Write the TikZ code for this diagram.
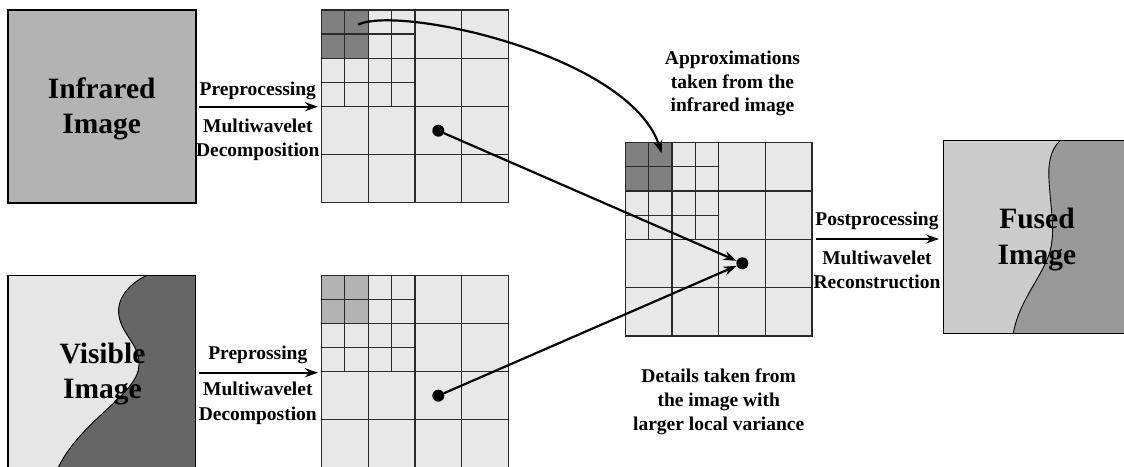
\documentclass[tikz,border=0pt]{standalone}
\usepackage{fontspec}
\setmainfont{Liberation Serif}
\usetikzlibrary{arrows.meta}
\definecolor{irgray}{HTML}{B3B3B3}
\definecolor{vislight}{HTML}{E6E6E6}
\definecolor{visdark}{HTML}{666666}
\definecolor{fuslight}{HTML}{CCCCCC}
\definecolor{fusdark}{HTML}{999999}
\definecolor{gridfill}{HTML}{E8E8E8}
\definecolor{celldark}{HTML}{808080}
\definecolor{celllight}{HTML}{B3B3B3}
\definecolor{gridline}{HTML}{2A2A2A}
\begin{document}
\begin{tikzpicture}[x=1pt,y=-1pt,
  imgbox/.style={draw=black,line width=1.1pt},
  gline/.style={draw=gridline,line width=1.2pt},
  dot/.style={circle,fill=black,inner sep=0pt,minimum size=12pt},
  arr/.style={line width=2.2pt,-{Stealth[length=13pt,width=9pt]}},
  lbl/.style={font=\bfseries\fontsize{19.5}{23.5}\selectfont,inner sep=0pt,anchor=base},
  big/.style={font=\bfseries\fontsize{29.5}{35}\selectfont,inner sep=0pt,anchor=base},
  pics/mwgrid/.style={code={
    \fill[gridfill] (0,0) rectangle (1,1);
    \fill[#1] (0,0) rectangle (0.25,0.25);
    \foreach \t in {0.25,0.5,0.75}{
      \draw[gline] (\t,0) -- (\t,1);
      \draw[gline] (0,\t) -- (1,\t);
    }
    \foreach \t in {0.125,0.375}{
      \draw[gline] (\t,0) -- (\t,0.5);
      \draw[gline] (0,\t) -- (0.5,\t);
    }
    \draw[gline] (0,0) rectangle (1,1);
  }}]
\useasboundingbox (0,0) rectangle (1124,466);

% Infrared image
\draw[imgbox,fill=irgray] (8,10) rectangle (196,203);
\node[big] (ir1) at (101.7,98.3) {Infrared};
\node[big] (ir2) at (101.7,133.3) {Image};

% Visible image
\fill[vislight] (8,275.3) rectangle (195.7,470);
\fill[visdark] (147,275.3) .. controls (128,284) and (116,300) .. (119,316)
  .. controls (122,335) and (140,345) .. (139,365)
  .. controls (138,395) and (80,420) .. (57,470) -- (195.7,470) -- (195.7,275.3) -- cycle;
\draw[line width=0.9pt] (147,275.3) .. controls (128,284) and (116,300) .. (119,316)
  .. controls (122,335) and (140,345) .. (139,365)
  .. controls (138,395) and (80,420) .. (57,470);
\draw[imgbox] (8,275.3) rectangle (195.7,470);
\node[big] (vi1) at (102.5,363.3) {Visible};
\node[big] (vi2) at (102.5,398.3) {Image};

% Fused image
\fill[fuslight] (943.3,140.7) rectangle (1131,333.3);
\fill[fusdark] (1060,140.7) .. controls (1050,150) and (1048,165) .. (1049,180)
  .. controls (1050,200) and (1054,225) .. (1052,240)
  .. controls (1050,270) and (1020,295) .. (1013.3,333.3) -- (1131,333.3) -- (1131,140.7) -- cycle;
\draw[line width=0.9pt] (1060,140.7) .. controls (1050,150) and (1048,165) .. (1049,180)
  .. controls (1050,200) and (1054,225) .. (1052,240)
  .. controls (1050,270) and (1020,295) .. (1013.3,333.3);
\draw[imgbox] (943.3,140.7) rectangle (1131,333.3);
\node[big] (fu1) at (1037,228.3) {Fused};
\node[big] (fu2) at (1037,264.3) {Image};

% Grids
\pic[xscale=187.4,yscale=192.7] at (321.3,10) {mwgrid=celldark};
\pic[xscale=187.4,yscale=192.7] at (321.3,275.3) {mwgrid=celllight};
\pic[xscale=186.7,yscale=193.3] at (625.3,142.7) {mwgrid=celldark};

% Dots
\node[dot] (d1) at (438.3,130.7) {};
\node[dot] (d2) at (438.3,395.7) {};
\node[dot] (d3) at (742.3,263.3) {};
\draw[arr] (d1) -- (d3);
\draw[arr] (d2) -- (d3);

% Curved arrow
\coordinate (cs) at (358.3,24.5);
\coordinate (ct) at (661.7,153.3);
\draw[arr] (cs) .. controls (400,5) and (630,55) .. (ct);

% Process arrows
\coordinate (a1s) at (199,106.7);
\coordinate (a1e) at (318,106.7);
\coordinate (a2s) at (199,372.7);
\coordinate (a2e) at (318,372.7);
\coordinate (a3s) at (816,239);
\coordinate (a3e) at (939,239);
\draw[arr] (a1s) -- (a1e);
\draw[arr] (a2s) -- (a2e);
\draw[arr] (a3s) -- (a3e);

% Labels
\node[lbl] (t1) at (257.8,95) {Preprocessing};
\node[lbl] (t2) at (257.8,132.7) {Multiwavelet};
\node[lbl] (t3) at (257.8,156.7) {Decomposition};
\node[lbl] (b1) at (257.8,359.3) {Preprossing};
\node[lbl] (b2) at (257.8,395.7) {Multiwavelet};
\node[lbl] (b3) at (257.8,420) {Decompostion};
\node[lbl] (r1) at (877,225) {Postprocessing};
\node[lbl] (r2) at (877,264.3) {Multiwavelet};
\node[lbl] (r3) at (877,288.3) {Reconstruction};
\node[lbl] (p1) at (732.5,64.7) {Approximations};
\node[lbl] (p2) at (732.5,88.3) {taken from the};
\node[lbl] (p3) at (732.5,111.7) {infrared image};
\node[lbl] (q1) at (718.7,382.7) {Details taken from};
\node[lbl] (q2) at (718.7,406) {the image with};
\node[lbl] (q3) at (718.7,430) {larger local variance};
\end{tikzpicture}
\end{document}
